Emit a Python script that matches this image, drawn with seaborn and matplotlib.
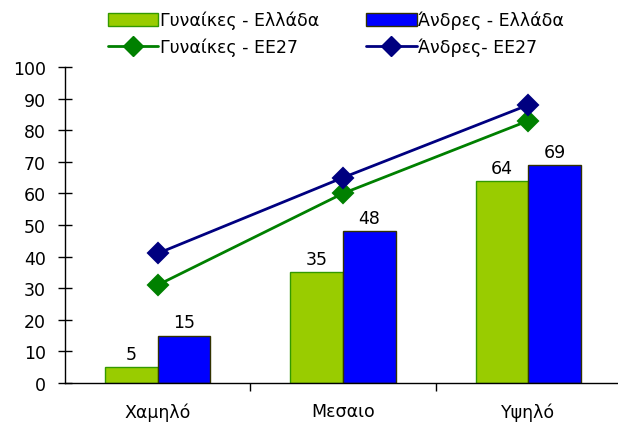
import matplotlib
matplotlib.use("Agg")
import matplotlib.pyplot as plt
from matplotlib.patches import Patch
from matplotlib.lines import Line2D
import seaborn as sns
import pandas as pd

levels = ["Χαμηλό", "Μεσαιο", "Υψηλό"]
greece_women = [5, 35, 64]
greece_men = [15, 48, 69]
eu_women = [31, 60, 83]
eu_men = [41, 65, 88]
series_names = ["Γυναίκες - Ελλάδα", "Άνδρες - Ελλάδα", "Γυναίκες - ΕΕ27", "Άνδρες- ΕΕ27"]
y_ticks = [0, 10, 20, 30, 40, 50, 60, 70, 80, 90, 100]

sns.set_style("white")
plt.rcParams["font.family"] = ["DejaVu Sans"]
plt.rcParams["text.color"] = "black"
plt.rcParams["xtick.color"] = "black"
plt.rcParams["ytick.color"] = "black"
plt.rcParams["xtick.labelcolor"] = "black"
plt.rcParams["ytick.labelcolor"] = "black"
FS = 12.5

bar_df = pd.DataFrame({
    "level": levels * 2,
    "value": greece_women + greece_men,
    "series": [series_names[0]] * 3 + [series_names[1]] * 3,
})
line_df = pd.DataFrame({
    "level": levels * 2,
    "value": eu_women + eu_men,
    "series": [series_names[2]] * 3 + [series_names[3]] * 3,
})

green = "#99CC00"
blue = "#0000FF"
green_edge = "#339900"
blue_edge = "#333300"
dgreen = "#008000"
navy = "#000080"

fig = plt.figure(figsize=(6.18, 4.31), dpi=100)
ax = fig.add_axes([65 / 618, 47 / 431, (621 - 65) / 618, (384 - 68) / 431])

sns.barplot(data=bar_df, x="level", y="value", hue="series", order=levels,
            hue_order=series_names[:2], palette=[green, blue], width=0.57,
            linewidth=1, legend=False, ax=ax, saturation=1)
for cont, ec in zip(ax.containers, [green_edge, blue_edge]):
    for p in cont:
        p.set_edgecolor(ec)
    ax.bar_label(cont, fmt="%d", padding=3, fontsize=FS, color="black")

sns.pointplot(data=line_df, x="level", y="value", hue="series", order=levels,
              hue_order=series_names[2:], palette=[dgreen, navy], markers="D",
              linestyles="-", dodge=False, markersize=10, linewidth=2,
              legend=False, ax=ax, errorbar=None)

ax.set_ylim(0, 100)
ax.set_xlim(-0.5, 2.5)
ax.set_yticks(y_ticks)
ax.set_xlabel("")
ax.set_ylabel("")
for s in ["top", "right"]:
    ax.spines[s].set_visible(False)
for s in ["left", "bottom"]:
    ax.spines[s].set_color("black")
    ax.spines[s].set_linewidth(1)
ax.tick_params(axis="y", direction="inout", length=9.5, width=1, color="black",
               labelsize=FS, pad=9, left=True, labelcolor="black")
ax.tick_params(axis="x", which="major", length=0, labelsize=FS, pad=14,
               labelcolor="black")
ax.set_xticks([0.5, 1.5], minor=True)
ax.tick_params(axis="x", which="minor", direction="out", length=6, width=1,
               color="black", bottom=True)

handles = [
    Patch(facecolor=green, edgecolor=green_edge, linewidth=1),
    Line2D([0], [0], color=dgreen, lw=2, marker="D", markersize=10),
    Patch(facecolor=blue, edgecolor=blue_edge, linewidth=1),
    Line2D([0], [0], color=navy, lw=2, marker="D", markersize=10),
]
labels = [series_names[0], series_names[2], series_names[1], series_names[3]]
fig.legend(handles, labels, ncol=2, loc="upper left",
           bbox_to_anchor=(108 / 618, 1 - 12 / 431), frameon=False,
           fontsize=FS, handlelength=2.9, handleheight=0.75,
           handletextpad=0.1, columnspacing=2.7, labelspacing=0.45,
           borderaxespad=0, borderpad=0.0)

fig.savefig("out.png", dpi=100)
